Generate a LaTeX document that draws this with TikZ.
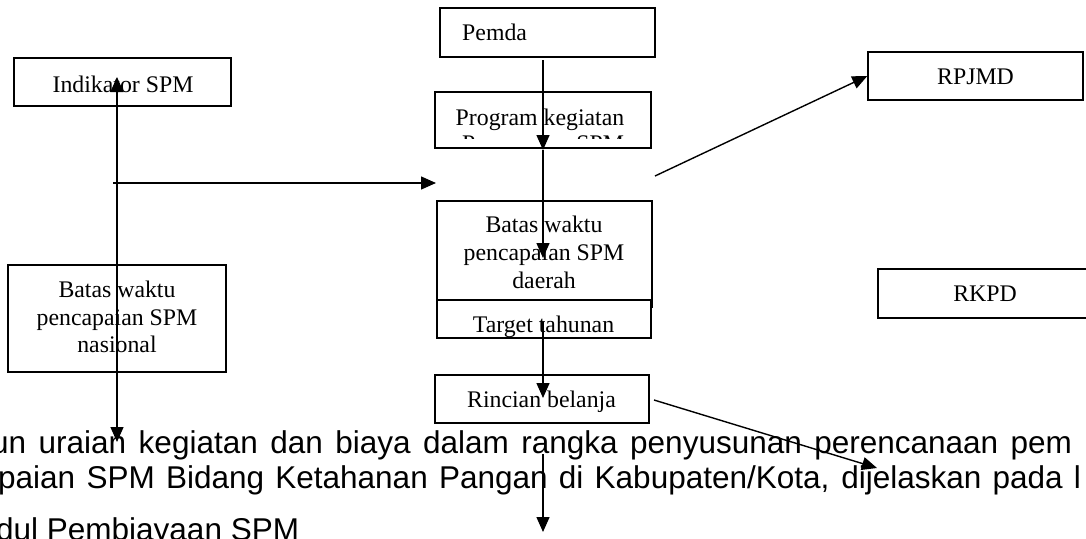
\documentclass[tikz,border=0pt]{standalone}
\usepackage{fontspec}
\setmainfont{Liberation Serif}
\newfontfamily\arialfont{Liberation Sans}
\usetikzlibrary{arrows.meta}
\begin{document}
\begin{tikzpicture}[x=1pt,y=-1pt,
  box/.style={draw, line width=1.4pt, inner sep=0pt},
  lbl/.style={anchor=base, inner sep=0pt, font=\fontsize{23.8}{28}\selectfont},
  para/.style={anchor=base west, inner sep=0pt, font=\arialfont\fontsize{31.5}{34}\selectfont},
  conn/.style={line width=1.4pt},
  arr/.style={line width=1.4pt, -{Triangle[length=15pt,width=13pt]}},
  dblarr/.style={line width=1.4pt, {Triangle[length=15pt,width=13pt]}-{Triangle[length=15pt,width=13pt]}}]
\useasboundingbox (0,0) rectangle (1086,538);
\fill[white] (0,0) rectangle (1086,538);

% paragraph text (behind)
\node[para] (par1) at (-9,453) {\makebox[1081pt][s]{un uraian kegiatan dan biaya dalam rangka penyusunan perencanaan pem}};
\node[para] (par2) at (-2,488) {\makebox[1083pt][s]{paian SPM Bidang Ketahanan Pangan di Kabupaten/Kota, dijelaskan pada l}};
\node[para] (par3) at (-4,540) {dul Pembiayaan SPM};

% boxes
\node[box, minimum width=217pt, minimum height=48pt] (ind) at (122.5,82) {};
\node[box, minimum width=215pt, minimum height=49pt] (pemda) at (547.5,32.5) {};
\node[box, minimum width=216pt, minimum height=56pt] (prog) at (543,120) {};
\node[box, minimum width=215pt, minimum height=99pt] (daerah) at (544.5,250.5) {};
\node[box, minimum width=214pt, minimum height=38pt] (target) at (544,319) {};
\node[box, minimum width=214pt, minimum height=48pt] (rincian) at (542,399) {};
\node[box, minimum width=218pt, minimum height=107pt] (nasional) at (117,318.5) {};
\node[box, minimum width=215pt, minimum height=48pt] (rpjmd) at (975.5,76) {};
\node[box, minimum width=214pt, minimum height=49pt] (rkpd) at (985,293.5) {};

% box texts
\node[lbl] (tind) at (123,92) {Indikator SPM};
\node[lbl, anchor=base west] (tpemda) at (462,40) {Pemda};
\node[lbl] (tprog) at (540,125) {Program kegiatan};
\begin{scope}
  \clip (436,92) rectangle (650,138);
  \node[lbl] (tprog2) at (543,151) {Pencapaian SPM};
\end{scope}
\node[lbl] (td1) at (544,232) {Batas waktu};
\node[lbl] (td2) at (544,260) {pencapaian SPM};
\node[lbl] (td3) at (544,288) {daerah};
\node[lbl] (ttarget) at (543.5,332) {Target tahunan};
\node[lbl] (trincian) at (541.5,407) {Rincian belanja};
\node[lbl] (tn1) at (117,297) {Batas waktu};
\node[lbl] (tn2) at (117,325) {pencapaian SPM};
\node[lbl] (tn3) at (117,352) {nasional};
\node[lbl] (trpjmd) at (975.5,84) {RPJMD};
\node[lbl] (trkpd) at (985,301) {RKPD};

% coordinates for free ends
\coordinate (vtop) at (117,77);
\coordinate (vbot) at (117,442);
\coordinate (hs) at (113,183);
\coordinate (he) at (436,183);
\coordinate (ps) at (543,60);
\coordinate (pm) at (543,150);
\coordinate (pe) at (543,258);
\coordinate (ts) at (543,322);
\coordinate (te) at (543,398);
\coordinate (rs) at (543,454);
\coordinate (re) at (543,532);
\coordinate (rpjs) at (655,176);
\coordinate (rins) at (654,400);
\coordinate (rine) at (877,468);
\coordinate (tick1) at (652,300);
\coordinate (tick2) at (652,308);

% connectors
\draw[dblarr] (vbot) -- (vtop);
\draw[arr] (hs) -- (he);
\draw[arr] (ps) -- (pm);
\draw[arr] (pm) -- (pe);
\draw[arr] (ts) -- (te);
\draw[arr] (rs) -- (re);
\draw[arr] (rpjs) -- (rpjmd.west);
\draw[arr] (rins) -- (rine);
\draw[conn] (tick1) -- (tick2);
\end{tikzpicture}
\end{document}
